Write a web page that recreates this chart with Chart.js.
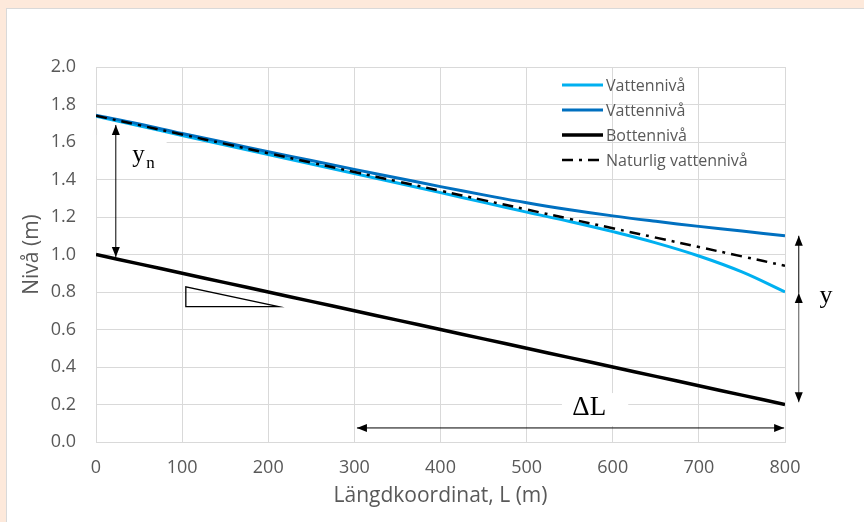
<!DOCTYPE html>
<html>
<head>
<meta charset="utf-8">
<script src="https://cdn.jsdelivr.net/npm/chart.js@4.4.1/dist/chart.umd.min.js"></script>
<style>
  html, body { margin: 0; padding: 0; background: #fde9db; }
  #frame {
    position: absolute; left: 6px; top: 8px; width: 858px; height: 514px;
    box-sizing: border-box; background: #fff;
    border-top: 1px solid #d9d9d9; border-left: 1px solid #d9d9d9;
  }
  canvas { display: block; }
</style>
</head>
<body>
<div id="frame"><canvas id="chart" width="857" height="513"></canvas></div>
<script>
// Data
var distance = [0, 50, 100, 150, 200, 250, 300, 350, 400, 450, 500, 550, 600, 650, 700, 750, 800];
var waterDrawdown = [1.737, 1.686, 1.635, 1.584, 1.533, 1.483, 1.432, 1.381, 1.330, 1.278, 1.226, 1.176, 1.122, 1.062, 0.992, 0.907, 0.800];
var waterBackwater = [1.743, 1.696, 1.645, 1.597, 1.548, 1.501, 1.454, 1.408, 1.362, 1.318, 1.276, 1.239, 1.206, 1.177, 1.150, 1.125, 1.100];
var bottomLevel = [1.00, 0.95, 0.90, 0.85, 0.80, 0.75, 0.70, 0.65, 0.60, 0.55, 0.50, 0.45, 0.40, 0.35, 0.30, 0.25, 0.20];
var naturalLevel = [1.74, 1.69, 1.64, 1.59, 1.54, 1.49, 1.44, 1.39, 1.34, 1.29, 1.24, 1.19, 1.14, 1.09, 1.04, 0.99, 0.94];
var seriesNames = ['Vattennivå', 'Vattennivå', 'Bottennivå', 'Naturlig vattennivå'];
var yTicks = [0, 0.2, 0.4, 0.6, 0.8, 1.0, 1.2, 1.4, 1.6, 1.8, 2.0];

function points(values) {
  return values.map(function (v, i) { return { x: distance[i], y: v }; });
}

var textGray = '#595959';
var gridGray = '#d9d9d9';
var sans = "'Open Sans', 'Noto Sans', sans-serif";
var serif = "'Liberation Serif', 'DejaVu Serif', serif";

// legend drawn inside the plot, upper right
var insideLegend = {
  id: 'insideLegend',
  afterDraw: function (chart) {
    var ctx = chart.ctx, area = chart.chartArea;
    var x0 = area.right - 223, y0 = area.top + 18;
    ctx.save();
    ctx.font = '16px ' + sans;
    ctx.textBaseline = 'middle';
    chart.data.datasets.forEach(function (ds, i) {
      var y = y0 + i * 25;
      ctx.beginPath();
      ctx.strokeStyle = ds.borderColor;
      ctx.lineWidth = ds.borderWidth;
      ctx.setLineDash(ds.borderDash || []);
      ctx.moveTo(x0, y);
      ctx.lineTo(x0 + 41, y);
      ctx.stroke();
      ctx.setLineDash([]);
      ctx.fillStyle = textGray;
      ctx.fillText(ds.label, x0 + 44, y + 1);
    });
    ctx.restore();
  }
};

function arrowHead(ctx, x, y, dir) {
  // dir: 'up', 'down', 'left', 'right'; (x,y) is the tip
  var l = 10, w = 4;
  ctx.beginPath();
  ctx.moveTo(x, y);
  if (dir === 'up') { ctx.lineTo(x - w, y + l); ctx.lineTo(x + w, y + l); }
  if (dir === 'down') { ctx.lineTo(x - w, y - l); ctx.lineTo(x + w, y - l); }
  if (dir === 'left') { ctx.lineTo(x + l, y - w); ctx.lineTo(x + l, y + w); }
  if (dir === 'right') { ctx.lineTo(x - l, y - w); ctx.lineTo(x - l, y + w); }
  ctx.closePath();
  ctx.fill();
}

function line(ctx, x1, y1, x2, y2) {
  ctx.beginPath();
  ctx.moveTo(x1, y1);
  ctx.lineTo(x2, y2);
  ctx.stroke();
}

// text boxes that hide the grid under labels
var labelBoxes = {
  id: 'labelBoxes',
  beforeDatasetsDraw: function (chart) {
    var ctx = chart.ctx, sx = chart.scales.x, sy = chart.scales.y;
    ctx.save();
    ctx.fillStyle = '#ffffff';
    [[1, 82, 1.637, 1.419], [541, 618, 0.261, 0.085]].forEach(function (b) {
      var x1 = sx.getPixelForValue(b[0]), x2 = sx.getPixelForValue(b[1]);
      var y1 = sy.getPixelForValue(b[2]), y2 = sy.getPixelForValue(b[3]);
      ctx.fillRect(x1, y1, x2 - x1, y2 - y1);
    });
    ctx.restore();
  }
};

// arrows, slope triangle and symbols
var sketchMarks = {
  id: 'sketchMarks',
  afterDatasetsDraw: function (chart) {
    var ctx = chart.ctx, sx = chart.scales.x, sy = chart.scales.y;
    var px = function (v) { return sx.getPixelForValue(v); };
    var py = function (v) { return sy.getPixelForValue(v); };
    ctx.save();
    ctx.strokeStyle = '#000';
    ctx.fillStyle = '#000';
    ctx.lineWidth = 1;

    // y_n arrow
    var xa = px(23);
    line(ctx, xa, py(1.691), xa, py(0.987));
    arrowHead(ctx, xa, py(1.691), 'up');
    arrowHead(ctx, xa, py(0.987), 'down');

    // delta L arrow
    var ya = py(0.075);
    line(ctx, px(303), ya, px(799), ya);
    arrowHead(ctx, px(303), ya, 'left');
    arrowHead(ctx, px(799), ya, 'right');

    // y arrows at the downstream end
    var xy = px(816);
    line(ctx, xy, py(1.10), xy, py(0.795));
    arrowHead(ctx, xy, py(1.10), 'up');
    ctx.strokeStyle = '#555';
    line(ctx, xy, py(0.795), xy, py(0.212));
    arrowHead(ctx, xy, py(0.795), 'up');
    arrowHead(ctx, xy, py(0.212), 'down');

    // slope triangle
    ctx.strokeStyle = '#000';
    ctx.lineWidth = 1.3;
    ctx.beginPath();
    ctx.moveTo(px(104.3), py(0.828));
    ctx.lineTo(px(104.3), py(0.722));
    ctx.lineTo(px(212), py(0.722));
    ctx.closePath();
    ctx.stroke();

    // symbols
    ctx.fillStyle = '#000';
    ctx.textBaseline = 'alphabetic';
    ctx.font = '25px ' + serif;
    ctx.fillText('y', px(42), py(1.491));
    ctx.font = '17px ' + serif;
    ctx.fillText('n', px(42) + 14, py(1.491) + 6);
    ctx.font = '27px ' + serif;
    ctx.fillText('ΔL', px(553), py(0.144));
    ctx.font = '26px ' + serif;
    ctx.fillText('y', px(840), py(0.742));
    ctx.restore();
  }
};

var ctx = document.getElementById('chart').getContext('2d');
var chart = new Chart(ctx, {
  type: 'line',
  data: {
    datasets: [{
      label: seriesNames[0],
      data: points(waterDrawdown),
      borderColor: '#00b0f0',
      borderWidth: 3,
      order: 3
    }, {
      label: seriesNames[1],
      data: points(waterBackwater),
      borderColor: '#0070c0',
      borderWidth: 3,
      order: 2
    }, {
      label: seriesNames[2],
      data: points(bottomLevel),
      borderColor: '#000000',
      borderWidth: 3.5,
      order: 1
    }, {
      label: seriesNames[3],
      data: points(naturalLevel),
      borderColor: '#000000',
      borderWidth: 2.5,
      borderDash: [11, 6, 3, 6],
      order: 0
    }]
  },
  options: {
    responsive: false,
    animation: false,
    events: [],
    layout: { padding: { top: 58, right: 79, left: 0, bottom: 0 } },
    elements: {
      point: { radius: 0 },
      line: { tension: 0.4, fill: false }
    },
    plugins: {
      legend: { display: false },
      tooltip: { enabled: false }
    },
    scales: {
      x: {
        type: 'linear',
        min: 0,
        max: 800,
        afterFit: function (scale) { scale.height = 80; },
        ticks: { stepSize: 100, color: textGray, font: { family: sans, size: 18 }, padding: 15, maxRotation: 0 },
        grid: { color: gridGray, drawTicks: false },
        border: { color: gridGray },
        title: {
          display: true,
          text: 'Längdkoordinat, L (m)',
          color: textGray,
          font: { family: sans, size: 21 },
          padding: { top: 0, bottom: 13 }
        }
      },
      y: {
        min: 0,
        max: 2,
        afterFit: function (scale) { scale.width = 89; },
        afterBuildTicks: function (scale) {
          scale.ticks = yTicks.map(function (v) { return { value: v }; });
        },
        ticks: {
          color: textGray,
          font: { family: sans, size: 18 },
          padding: 20,
          callback: function (v) { return Number(v).toFixed(1); }
        },
        grid: { color: gridGray, drawTicks: false },
        border: { display: false },
        title: {
          display: true,
          text: 'Nivå (m)',
          color: textGray,
          font: { family: sans, size: 21 },
          padding: { top: 12, bottom: 0 }
        }
      }
    }
  },
  plugins: [labelBoxes, sketchMarks, insideLegend]
});
</script>
</body>
</html>
